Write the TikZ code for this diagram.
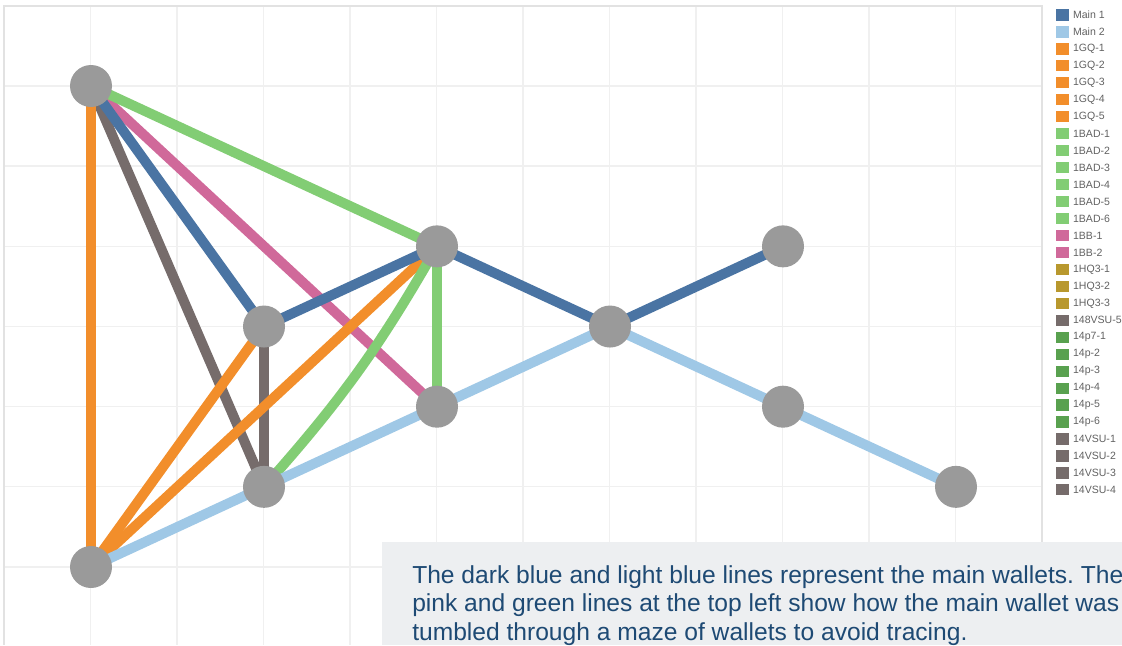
\documentclass[tikz,border=0pt]{standalone}
\usepackage{fontspec}
\setmainfont{Liberation Sans}
\usetikzlibrary{positioning}
\pgfdeclarelayer{grid}
\pgfdeclarelayer{links}
\pgfsetlayers{grid,links,main}
\frenchspacing

\definecolor{mainone}{HTML}{4A74A3}
\definecolor{maintwo}{HTML}{9FC8E6}
\definecolor{gqorange}{HTML}{F28E2B}
\definecolor{badgreen}{HTML}{82CD74}
\definecolor{bbpink}{HTML}{D0699A}
\definecolor{hqgold}{HTML}{B8982E}
\definecolor{vsugray}{HTML}{766C6B}
\definecolor{pgreen}{HTML}{59A14F}
\definecolor{walletgray}{HTML}{9A9A9A}
\definecolor{gridgray}{HTML}{F0F0F0}
\definecolor{framegray}{HTML}{E2E2E2}
\definecolor{notefill}{HTML}{EDEFF1}
\definecolor{notetext}{HTML}{1E4A74}

\begin{document}
\begin{tikzpicture}[node distance=2.004cm and 4.325cm,on grid,
    wallet/.style={circle,fill=walletgray,minimum size=1.05cm,inner sep=0pt},
    link/.style={line width=0.25cm},
    main1/.style={link,mainone},
    main2/.style={link,maintwo},
    gq/.style={link,gqorange},
    bad/.style={link,badgreen},
    bb/.style={link,bbpink},
    vsu/.style={link,vsugray},
    swatch/.style={minimum width=0.325cm,minimum height=0.28cm,inner sep=0pt},
    legtext/.style={anchor=west,inner sep=0pt,text=black!62,font=\fontsize{7.5pt}{8pt}\selectfont}]
    \useasboundingbox (0,0) rectangle (28.05,-16.125);

		% chart grid
		\begin{pgfonlayer}{grid}
		\foreach \i in {1,...,11}
			\draw[gridgray,line width=1pt] ({0.1+2.1625*\i},-0.145) -- ({0.1+2.1625*\i},-16.125);
		\foreach \j in {1,...,7}
			\draw[gridgray,line width=1pt] (0.1,{-0.145-2.004*\j}) -- (26.05,{-0.145-2.004*\j});
		\draw[framegray,line width=1pt] (0.1,-16.125) -- (0.1,-0.145) -- (26.05,-0.145) -- (26.05,-16.125);
		\end{pgfonlayer}

		% wallets
		\node[wallet] (a) at (2.275,-2.15) {};
		\node[wallet] (b) [below=12.025cm of a] {};
		\node[wallet] (c) [below right=6.013cm and 4.325cm of a] {};
		\node[wallet] (d) [below=4.008cm of c] {};
		\node[wallet] (e) [above right=of c] {};
		\node[wallet] (f) [below=4.008cm of e] {};
		\node[wallet] (g) [below right=of e] {};
		\node[wallet] (h) [above right=of g] {};
		\node[wallet] (i) [below right=of g] {};
		\node[wallet] (j) [below right=of i] {};

		% transfers
		\begin{pgfonlayer}{links}
		\path (a.center) edge[vsu] (d.center)
				(c.center) edge[vsu] (d.center);
		\path (a.center) edge[bb] (f.center);
		\path (b.center) edge[gq] (a.center)
				(b.center) edge[gq] (c.center)
				(b.center) edge[gq] (e.center);
		\path (a.center) edge[bad] (e.center)
				(d.center) edge[bad,bend right=6] (e.center)
				(e.center) edge[bad] (f.center);
		\path (b.center) edge[main2] (d.center)
				(d.center) edge[main2] (f.center)
				(f.center) edge[main2] (g.center)
				(g.center) edge[main2] (i.center)
				(i.center) edge[main2] (j.center);
		\path (a.center) edge[main1] (c.center)
				(c.center) edge[main1] (e.center)
				(e.center) edge[main1] (g.center)
				(g.center) edge[main1] (h.center);
		\end{pgfonlayer}

		% legend
		\foreach \lab/\col [count=\k from 0] in {Main 1/mainone,Main 2/maintwo,
				1GQ-1/gqorange,1GQ-2/gqorange,1GQ-3/gqorange,1GQ-4/gqorange,1GQ-5/gqorange,
				1BAD-1/badgreen,1BAD-2/badgreen,1BAD-3/badgreen,1BAD-4/badgreen,1BAD-5/badgreen,1BAD-6/badgreen,
				1BB-1/bbpink,1BB-2/bbpink,1HQ3-1/hqgold,1HQ3-2/hqgold,1HQ3-3/hqgold,148VSU-5/vsugray,
				14p7-1/pgreen,14p-2/pgreen,14p-3/pgreen,14p-4/pgreen,14p-5/pgreen,14p-6/pgreen,
				14VSU-1/vsugray,14VSU-2/vsugray,14VSU-3/vsugray,14VSU-4/vsugray} {
			\node[swatch,fill=\col] (sw\k) at (26.5625,{-0.375-0.424*\k}) {};
			\node[legtext] (leg\k) at (26.82,{-0.375-0.424*\k}) {\lab};
		}

		% note
		\begin{scope}
		\clip (0,0) rectangle (28.05,-16.125);
		\fill[notefill] (9.55,-13.55) rectangle (28.05,-16.125);
		\node[anchor=base west,align=left,inner sep=0pt,text=notetext,
				font=\fontsize{17.5pt}{20.27pt}\selectfont] (note) at (10.3,-16.005)
				{The dark blue and light blue lines represent the main wallets. The\\
				pink and green lines at the top left show how the main wallet was\\
				tumbled through a maze of wallets to avoid tracing.};
		\end{scope}
\end{tikzpicture}
\end{document}
